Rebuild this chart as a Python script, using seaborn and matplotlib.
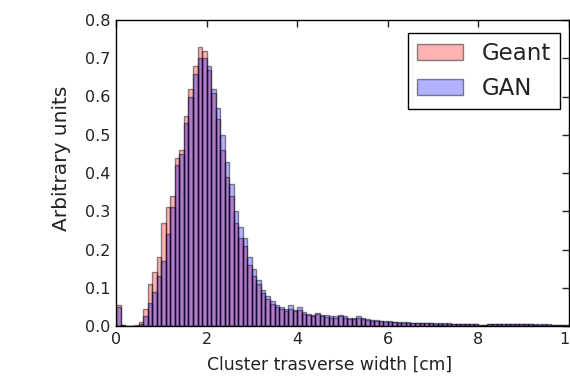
import numpy as np
import pandas as pd
import matplotlib
matplotlib.use("Agg")
import matplotlib.pyplot as plt
import seaborn as sns

# bin edges: 100 bins of 0.1 cm from 0 to 10
bin_edges = np.round(np.arange(0, 10.01, 0.1), 2)
bin_centers = (bin_edges[:-1] + bin_edges[1:]) / 2

geant = [
    0.055, 0.002, 0.001, 0.001, 0.002, 0.010, 0.045, 0.110, 0.140, 0.180,
    0.270, 0.310, 0.340, 0.440, 0.460, 0.550, 0.620, 0.680, 0.730, 0.720,
    0.670, 0.610, 0.540, 0.460, 0.390, 0.340, 0.270, 0.230, 0.210, 0.160,
    0.130, 0.110, 0.085, 0.070, 0.058, 0.050, 0.044, 0.040, 0.045, 0.038,
    0.042, 0.032, 0.028, 0.027, 0.031, 0.026, 0.024, 0.022, 0.022, 0.026,
    0.022, 0.019, 0.018, 0.022, 0.017, 0.015, 0.014, 0.013, 0.012, 0.011,
    0.010, 0.010, 0.009, 0.009, 0.008, 0.008, 0.008, 0.007, 0.007, 0.007,
    0.006, 0.006, 0.006, 0.006, 0.006, 0.005, 0.005, 0.005, 0.005, 0.005,
    0.003, 0.003, 0.004, 0.004, 0.004, 0.004, 0.004, 0.004, 0.004, 0.004,
    0.004, 0.004, 0.003, 0.003, 0.003, 0.003, 0.003, 0.003, 0.003, 0.003,
]
gan = [
    0.050, 0.002, 0.001, 0.001, 0.001, 0.005, 0.025, 0.060, 0.090, 0.130,
    0.170, 0.240, 0.310, 0.420, 0.450, 0.530, 0.600, 0.660, 0.700, 0.700,
    0.680, 0.620, 0.570, 0.500, 0.430, 0.370, 0.300, 0.260, 0.230, 0.180,
    0.150, 0.120, 0.095, 0.078, 0.065, 0.055, 0.050, 0.045, 0.055, 0.042,
    0.050, 0.036, 0.032, 0.030, 0.035, 0.030, 0.028, 0.026, 0.025, 0.030,
    0.027, 0.022, 0.020, 0.025, 0.020, 0.018, 0.016, 0.015, 0.014, 0.013,
    0.012, 0.011, 0.011, 0.010, 0.010, 0.009, 0.009, 0.008, 0.008, 0.008,
    0.007, 0.007, 0.007, 0.007, 0.006, 0.006, 0.006, 0.006, 0.006, 0.005,
    0.003, 0.003, 0.005, 0.005, 0.005, 0.005, 0.004, 0.004, 0.004, 0.004,
    0.004, 0.004, 0.004, 0.004, 0.004, 0.004, 0.003, 0.003, 0.003, 0.003,
]

series_labels = ["Geant", "GAN"]
xlabel = "Cluster trasverse width [cm]"
ylabel = "Arbitrary units"

sns.set_style("white")
plt.rcParams["font.family"] = ["DejaVu Sans"]

fig = plt.figure(figsize=(5.7, 3.79), dpi=100)
ax = fig.add_axes([116 / 570, 53 / 379, 453 / 570, 306 / 379])

for vals, col, lab in zip([geant, gan], ["#ff0000", "#0000ff"], series_labels):
    df = pd.DataFrame({"x": bin_centers, "w": vals})
    sns.histplot(data=df, x="x", weights="w", bins=list(bin_edges), ax=ax,
                 color=col, alpha=0.3, edgecolor=(0, 0, 0, 0.45),
                 linewidth=1.0, label=lab, stat="count")

ax.set_xlim(0, 10)
ax.set_ylim(0, 0.8)
ax.set_xticks([0, 2, 4, 6, 8, 10])
ax.set_yticks(np.round(np.arange(0, 0.81, 0.1), 1))
ax.set_yticklabels([f"{v:.1f}" for v in np.arange(0, 0.81, 0.1)])
ax.tick_params(direction="in", top=True, right=True, length=5, width=1,
               labelsize=11.5, colors="#222222", pad=4)
for s in ax.spines.values():
    s.set_visible(True)
    s.set_color("black")
    s.set_linewidth(1.0)
ax.set_xlabel(xlabel, fontsize=12.3, color="#222222")
ax.set_ylabel(ylabel, fontsize=14.5, color="#222222")
ax.xaxis.set_label_coords((330 - 116) / 453, -30 / 306)
ax.yaxis.set_label_coords((71 - 116) / 453, (326 - 158) / 306)

leg = ax.legend(loc="upper right", fontsize=16.5, fancybox=False, framealpha=1,
                edgecolor="black", borderaxespad=0,
                bbox_to_anchor=((560 - 116) / 453, (326 - 33) / 306),
                handlelength=2.0)
leg.get_frame().set_linewidth(1.0)
for t in leg.get_texts():
    t.set_color("#222222")

fig.savefig("out.png", dpi=100)
